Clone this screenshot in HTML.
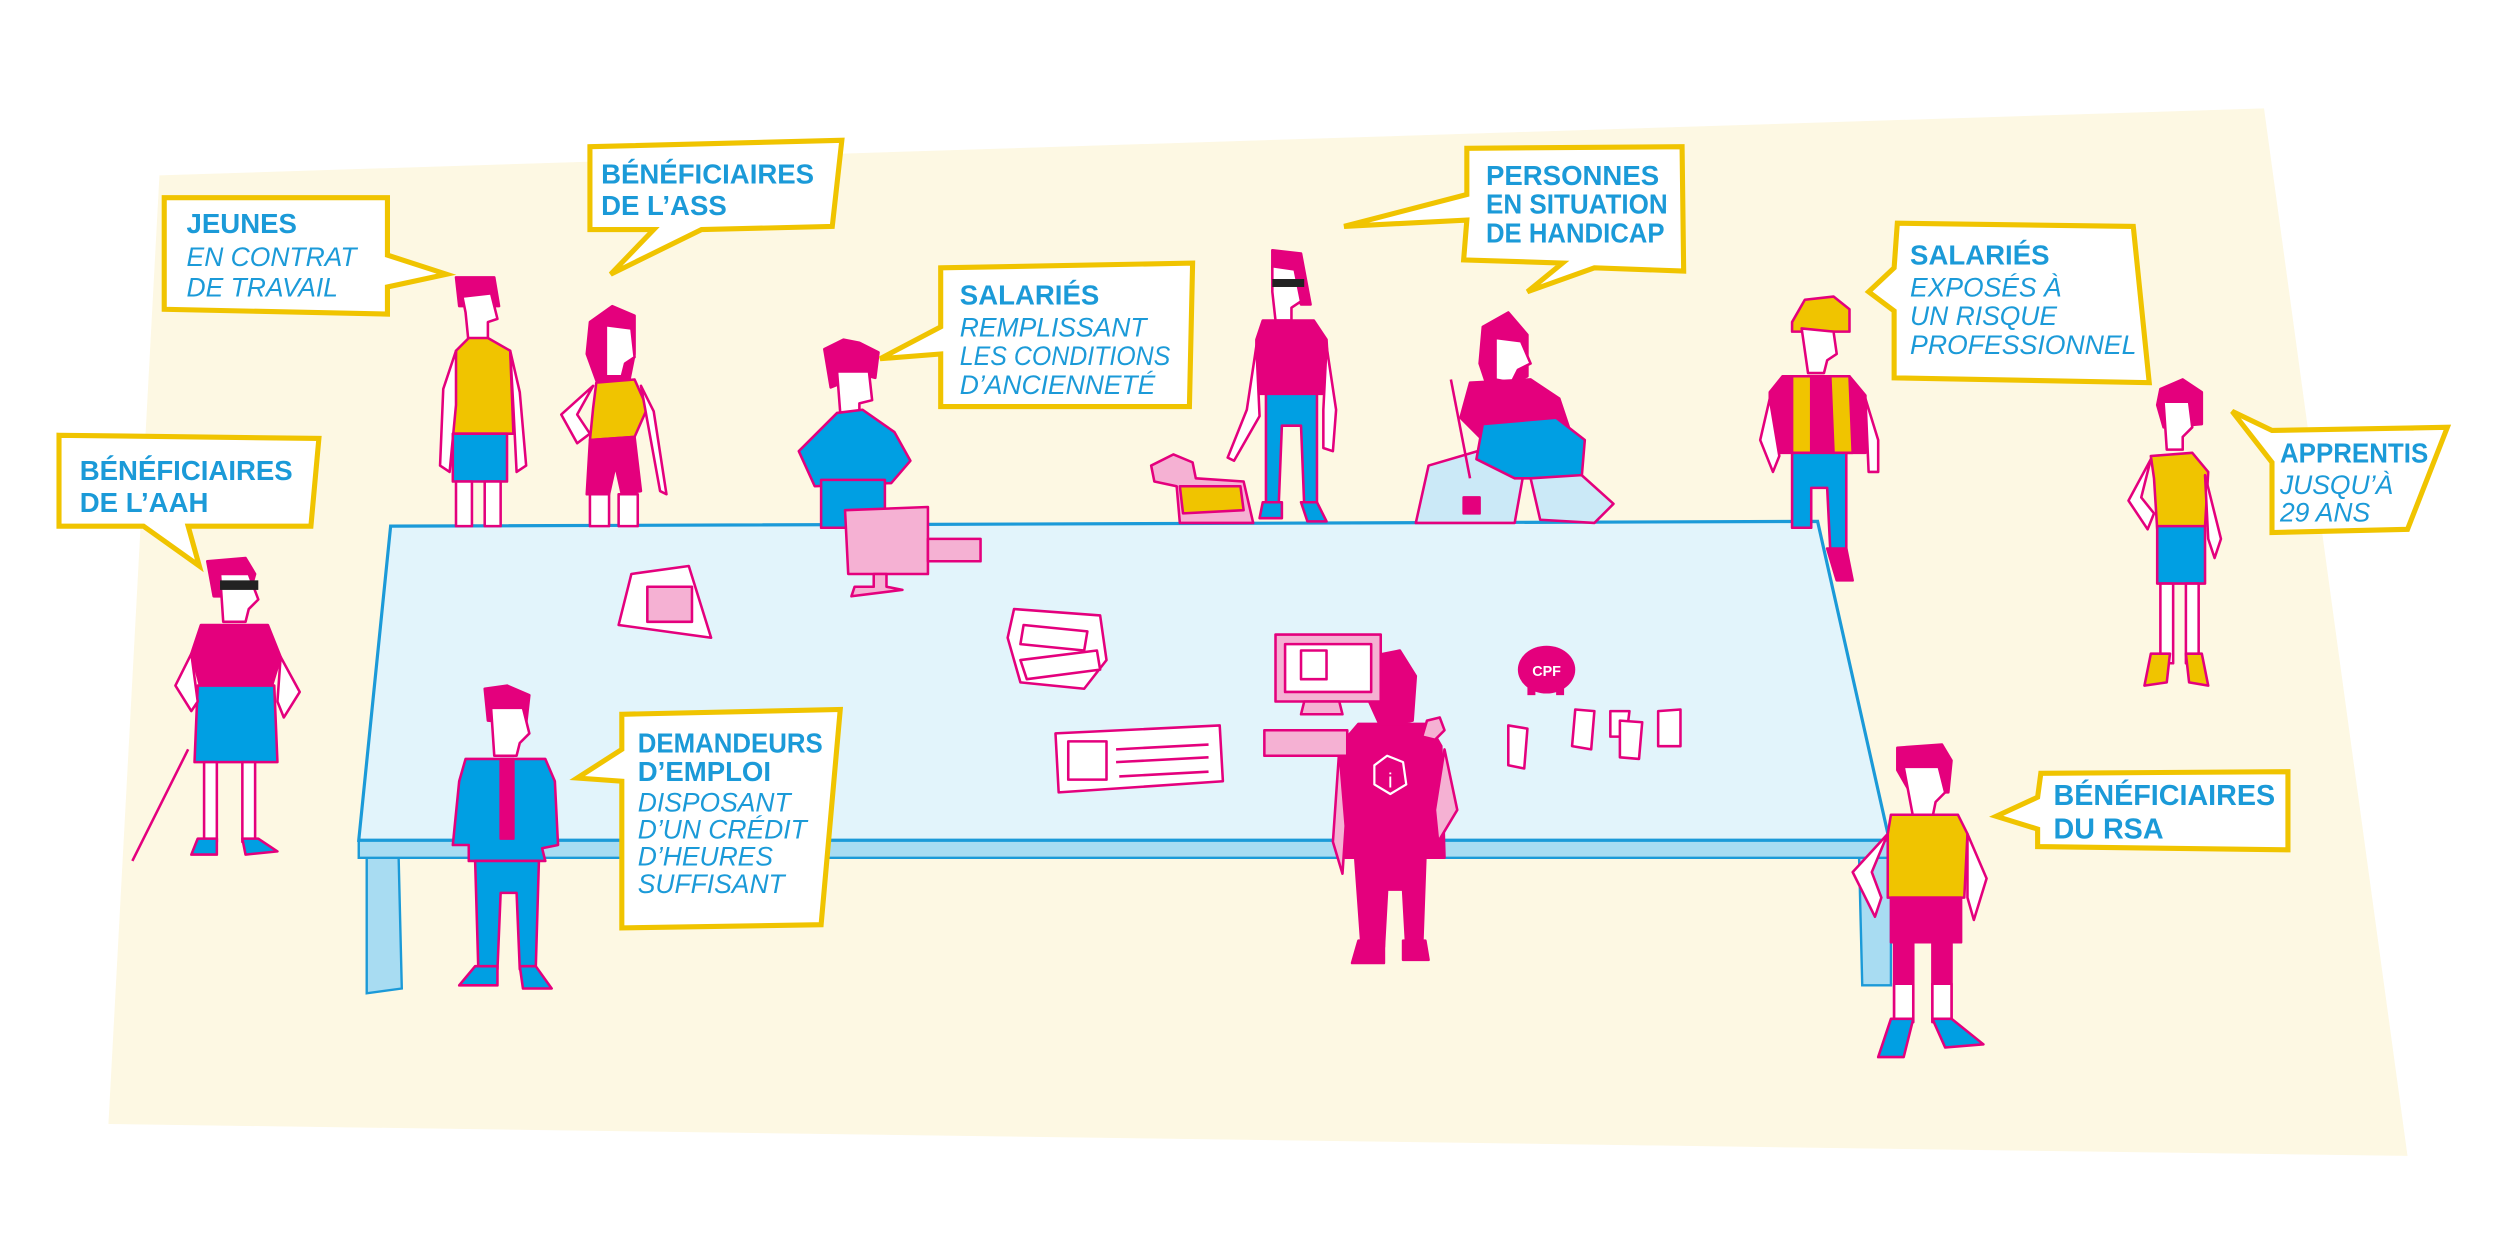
<!DOCTYPE html>
<html><head><meta charset="utf-8"><style>
html,body{margin:0;padding:0;background:#fff;}
svg{display:block}
.b{font-family:"Liberation Sans",sans-serif;font-weight:bold;font-size:17.3px;fill:#1b9ad8;}
.i{font-family:"Liberation Sans",sans-serif;font-style:italic;font-size:16.6px;fill:#1b9ad8;}
.bub{fill:#fff;stroke:#f0c400;stroke-width:3.2;stroke-linejoin:miter}
.m{stroke:#e4007d;stroke-width:1.6;stroke-linejoin:round}
</style></head><body>
<svg width="2500" height="1235" viewBox="0 0 1568 774.6" xmlns="http://www.w3.org/2000/svg">
<rect width="1568" height="775" fill="#fff"/>
<polygon points="100,110 1420,68 1510,725 68,705" fill="#fdf8e3"/>

<polygon points="230,537 250,537 252,620 230,623" fill="#a8dcf2" stroke="#1b9ad8" stroke-width="1.5"/>
<polygon points="1166,537 1186,537 1186,618 1168,618" fill="#a8dcf2" stroke="#1b9ad8" stroke-width="1.5"/>
<polygon points="225,527 1185,527 1185,538 225,538" fill="#a8dcf2" stroke="#1b9ad8" stroke-width="1.5"/>
<polygon points="245,330 1140,327 1185,527 225,527" fill="#e2f4fb" stroke="#1b9ad8" stroke-width="2"/>

<g class="m" transform="translate(300,174)">
<polygon points="-14,0 10,0 13,18 -12,18" fill="#e4007d"/>
<polygon points="-10,12 8,10 12,26 6,28 6,40 -6,42 -8,22" fill="#fff"/>
<polygon points="-6,38 6,38 20,46 22,98 -16,98 -14,46" fill="#f0c400"/>
<polygon points="-14,46 -22,70 -24,118 -18,122 -14,80" fill="#fff"/>
<polygon points="20,46 26,72 30,118 24,122 22,82" fill="#fff"/>
<rect x="-16" y="98" width="34" height="30" fill="#009fe3"/>
<rect x="-14" y="128" width="10" height="28" fill="#fff"/><rect x="4" y="128" width="10" height="28" fill="#fff"/>
</g>
<g class="m" transform="translate(386,192)">
<polygon points="-16,10 -2,0 12,6 12,30 8,50 -10,52 -18,30" fill="#e4007d"/>
<polygon points="-6,12 10,14 12,32 6,36 4,44 -6,44" fill="#fff"/>
<polygon points="-12,48 12,46 20,64 12,82 -16,84 -14,64" fill="#f0c400"/>
<polygon points="-16,84 12,82 16,116 4,118 0,100 -4,118 -18,118" fill="#e4007d"/>
<polygon points="-14,50 -34,68 -24,86 -16,80 -24,68" fill="#fff"/>
<polygon points="16,50 24,66 32,118 28,116 20,72" fill="#fff"/>
<rect x="-16" y="118" width="12" height="20" fill="#fff"/><rect x="2" y="118" width="12" height="20" fill="#fff"/>
</g>
<g class="m" transform="translate(535,213)">
<polygon points="-18,6 -6,0 4,2 16,8 14,24 6,22 -14,30" fill="#e4007d"/>
<polygon points="-10,20 10,20 12,38 4,40 4,48 -8,46" fill="#fff"/>
<polygon points="-10,46 6,44 26,58 36,76 24,90 -24,92 -34,70" fill="#009fe3"/>
<rect x="-20" y="88" width="40" height="30" fill="#009fe3"/>
</g>
<g class="m" transform="translate(810,157)">
<polygon points="-12,0 6,2 12,34 6,34 0,14 -12,12" fill="#e4007d"/>
<polygon points="-12,10 2,12 6,32 0,36 0,44 -10,44 -12,26" fill="#fff"/>
<rect x="-12" y="18" width="20" height="5" fill="#222" stroke="none"/>
<polygon points="-18,44 14,44 22,56 24,90 -22,90 -22,56" fill="#e4007d"/>
<polygon points="-16,90 16,90 16,160 8,160 6,110 -6,110 -8,160 -16,160" fill="#009fe3"/>
<polygon points="22,60 28,100 26,126 20,124 20,100" fill="#fff"/>
<polygon points="-22,60 -28,100 -40,130 -36,132 -20,104" fill="#fff"/>
<polygon points="-18,158 -6,158 -6,168 -20,168" fill="#009fe3"/><polygon points="6,158 16,158 22,170 10,170" fill="#009fe3"/>
</g>
<g class="m">
<polygon points="722,292 736,285 748,290 750,300 780,302 786,328 740,328 738,305 724,302" fill="#f5b1d3"/>
<polygon points="740,305 778,305 780,320 742,322" fill="#f0c400"/>
</g>
<g class="m">
<polygon points="888,328 896,292 930,282 955,300 950,328" fill="#cbe9f7"/>
<polygon points="930,205 946,196 958,210 958,236 948,240 934,246 928,228" fill="#e4007d"/>
<polygon points="938,212 954,214 960,228 952,232 948,240 938,238" fill="#fff"/>
<polygon points="922,240 960,238 978,250 984,268 930,276 916,262" fill="#e4007d"/>
<polygon points="930,266 976,262 994,276 992,300 950,300 926,288" fill="#009fe3"/>
<polygon points="960,300 992,298 1012,316 1000,328 966,326" fill="#cbe9f7"/>
<line x1="910" y1="238" x2="922" y2="300"/>
<rect x="918" y="312" width="10" height="10" fill="#e4007d"/>
</g>
<g class="m" transform="translate(1140,186)">
<polygon points="-16,16 -8,2 10,0 20,8 20,22 -16,22" fill="#f0c400"/>
<polygon points="-10,20 10,22 12,36 6,40 4,48 -6,48" fill="#fff"/>
<polygon points="-22,50 20,50 30,62 30,98 -30,98 -30,60" fill="#e4007d"/>
<polygon points="-16,50 -4,50 -4,98 -16,98" fill="#f0c400"/><polygon points="8,50 20,50 22,98 10,98" fill="#f0c400"/>
<polygon points="-16,98 18,98 18,160 8,160 6,120 -4,120 -4,145 -16,145" fill="#009fe3"/>
<polygon points="6,158 18,158 22,178 12,178" fill="#e4007d"/>
<polygon points="30,64 38,90 38,110 32,110" fill="#fff"/><polygon points="-30,64 -36,90 -28,110 -24,100" fill="#fff"/>
</g>
<g class="m" transform="translate(1365,238)">
<polygon points="-10,6 4,0 16,8 16,28 -8,30 -12,16" fill="#e4007d"/>
<polygon points="-8,14 8,14 10,30 4,36 4,44 -6,44" fill="#fff"/>
<polygon points="-16,48 10,46 20,58 18,92 -12,94 -14,62" fill="#f0c400"/>
<rect x="-12" y="92" width="30" height="36" fill="#009fe3"/>
<rect x="-10" y="128" width="8" height="50" fill="#fff"/><rect x="6" y="128" width="8" height="50" fill="#fff"/>
<polygon points="-16,50 -30,76 -18,94 -14,84 -22,74" fill="#fff"/><polygon points="18,60 28,100 24,112 20,100" fill="#fff"/>
<polygon points="-16,172 -4,172 -6,190 -20,192" fill="#f0c400"/><polygon points="6,172 16,172 20,192 8,190" fill="#f0c400"/>
</g>
<g class="m" transform="translate(148,350)">
<polygon points="-18,2 6,0 12,10 8,24 -14,24" fill="#e4007d"/>
<polygon points="-10,10 8,10 14,26 8,32 6,40 -8,40" fill="#fff"/>
<rect x="-10" y="14" width="24" height="6" fill="#222" stroke="none"/>
<polygon points="-22,42 20,42 28,62 22,82 -22,82 -28,60" fill="#e4007d"/>
<polygon points="-24,80 24,80 26,128 -26,128" fill="#009fe3"/>
<rect x="-20" y="128" width="8" height="50" fill="#fff"/><rect x="4" y="128" width="8" height="50" fill="#fff"/>
<polygon points="-28,60 -38,80 -28,96 -24,90" fill="#fff"/><polygon points="28,62 40,84 30,100 26,90" fill="#fff"/>
<polygon points="-24,176 -12,176 -12,186 -28,186" fill="#009fe3"/><polygon points="4,176 14,176 26,184 6,186" fill="#009fe3"/>
<line x1="-30" y1="120" x2="-65" y2="190"/>
</g>
<g class="m" transform="translate(318,430)">
<polygon points="-14,2 0,0 14,6 12,24 -12,22" fill="#e4007d"/>
<polygon points="-10,14 10,14 14,30 8,36 6,44 -8,44" fill="#fff"/>
<polygon points="-26,46 24,46 30,60 32,100 22,102 24,110 -24,110 -24,100 -34,100 -30,60" fill="#009fe3"/>
<polygon points="-4,46 4,46 4,96 -4,96" fill="#e4007d"/>
<polygon points="-20,110 20,110 18,178 8,178 6,130 -4,130 -6,178 -18,178" fill="#009fe3"/>
<polygon points="-20,176 -6,176 -6,188 -30,188" fill="#009fe3"/><polygon points="8,176 18,176 28,190 10,190" fill="#009fe3"/>
</g>
<g class="m" transform="translate(870,408)">
<polygon points="-12,4 8,0 18,16 16,44 -4,48 -14,26" fill="#e4007d"/>
<polygon points="-18,46 26,46 34,60 36,130 -26,130 -30,60" fill="#e4007d"/>
<polygon points="36,62 44,100 32,120 30,100" fill="#f5b1d3"/>
<polygon points="-30,62 -34,120 -28,140 -26,110" fill="#f5b1d3"/>
<polygon points="-20,130 24,130 22,186 12,186 10,150 0,150 -2,186 -16,186" fill="#e4007d"/>
<polygon points="-18,182 -2,182 -2,196 -22,196" fill="#e4007d"/><polygon points="10,182 24,182 26,194 10,194" fill="#e4007d"/>
<polygon points="0,66 10,70 12,84 2,90 -8,84 -8,72" fill="none" stroke="#fff" stroke-width="1.4"/>
<text x="2" y="86" font-family="Liberation Sans,sans-serif" font-size="13" fill="#fff" stroke="none" text-anchor="middle">i</text>
</g>
<polygon points="895,452 903,450 906,458 900,464 892,462" fill="#f5b1d3" class="m"/>
<g class="m" transform="translate(1208,467)">
<polygon points="-18,2 10,0 16,10 14,30 -10,30 -18,16" fill="#e4007d"/>
<polygon points="-14,14 8,14 12,30 6,36 4,46 -8,46" fill="#fff"/>
<polygon points="-22,44 20,44 26,56 24,96 -24,96 -24,56" fill="#f0c400"/>
<polygon points="-22,96 22,96 22,124 -22,124" fill="#e4007d"/>
<rect x="-20" y="124" width="12" height="50" fill="#e4007d"/><rect x="4" y="124" width="12" height="50" fill="#e4007d"/>
<rect x="-20" y="150" width="12" height="24" fill="#fff"/><rect x="4" y="150" width="12" height="24" fill="#fff"/>
<polygon points="-24,56 -46,80 -32,108 -28,96 -34,80" fill="#fff"/><polygon points="26,56 38,84 30,110 26,96" fill="#fff"/>
<polygon points="-22,172 -8,172 -14,196 -30,196" fill="#009fe3"/><polygon points="4,172 16,172 36,188 12,190" fill="#009fe3"/>
</g>

<g class="m">
<polygon points="530,320 582,318 582,360 532,360" fill="#f5b1d3"/>
<rect x="582" y="338" width="33" height="14" fill="#f5b1d3"/>
<polygon points="548,360 556,360 556,368 566,370 534,374 536,368 548,368" fill="#f5b1d3"/>
<polygon points="396,360 432,355 446,400 388,392" fill="#fff"/>
<rect x="406" y="368" width="28" height="22" fill="#f5b1d3"/>
<polygon points="636,382 690,386 694,414 680,432 640,428 632,400" fill="#fff"/>
<polygon points="642,392 682,396 680,408 640,404" fill="#fff"/>
<polygon points="640,414 688,408 690,420 644,426" fill="#fff"/>
<rect x="800" y="398" width="66" height="42" fill="#f5b1d3"/>
<rect x="806" y="404" width="54" height="30" fill="#fff"/>
<rect x="816" y="408" width="16" height="18" fill="#fff"/>
<polygon points="818,440 840,440 842,448 816,448" fill="#f5b1d3"/>
<rect x="793" y="458" width="52" height="16" fill="#f5b1d3"/>
<polygon points="662,460 765,455 767,490 664,497" fill="#fff"/>
<rect x="670" y="465" width="24" height="24" fill="#fff"/>
<line x1="700" y1="470" x2="758" y2="467"/><line x1="700" y1="478" x2="758" y2="475"/><line x1="702" y1="487" x2="758" y2="484"/>
<polygon points="946,455 958,457 956,482 946,480" fill="#fff"/>
<polygon points="988,445 1000,446 998,470 986,468" fill="#fff"/>
<polygon points="1010,446 1022,446 1020,462 1010,462" fill="#fff"/>
<polygon points="1016,452 1030,453 1028,476 1016,475" fill="#fff"/>
<polygon points="1040,446 1054,445 1054,468 1040,468" fill="#fff"/>
</g>
<ellipse cx="970" cy="420" rx="18" ry="15" fill="#e4007d"/>
<rect x="958" y="430" width="5" height="6" fill="#e4007d"/><rect x="976" y="430" width="5" height="6" fill="#e4007d"/>
<text x="970" y="424" font-family="Liberation Sans,sans-serif" font-weight="bold" font-size="9" fill="#fff" text-anchor="middle">CPF</text>

<polygon class="bub" points="103,124 243,124 243,160 280,172 243,180 243,197 103,194"/>
<text class="b" x="117" y="146">JEUNES</text><text class="i" x="117" y="167">EN CONTRAT</text><text class="i" x="117" y="186">DE TRAVAIL</text>

<polygon class="bub" points="370,92 528,88 522,142 440,144 383,172 410,144 370,144"/>
<text class="b" x="377" y="115">BÉNÉFICIAIRES</text><text class="b" x="377" y="135">DE L’ASS</text>

<polygon class="bub" points="590,168 748,165 746,255 590,255 590,222 552,225 590,205"/>
<text class="b" x="602" y="191">SALARIÉS</text><text class="i" x="602" y="211">REMPLISSANT</text><text class="i" x="602" y="229" textLength="132" lengthAdjust="spacingAndGlyphs">LES CONDITIONS</text><text class="i" x="602" y="247">D’ANCIENNETÉ</text>

<polygon class="bub" points="920,93 1055,92 1056,170 1000,168 958,183 980,165 918,163 920,138 843,142 920,122"/>
<text class="b" x="932" y="116">PERSONNES</text><text class="b" x="932" y="134" textLength="114" lengthAdjust="spacingAndGlyphs">EN SITUATION</text><text class="b" x="932" y="152" textLength="112" lengthAdjust="spacingAndGlyphs">DE HANDICAP</text>

<polygon class="bub" points="1190,140 1338,142 1348,240 1188,237 1188,195 1172,183 1188,168"/>
<text class="b" x="1198" y="166">SALARIÉS</text><text class="i" x="1198" y="186">EXPOSÉS À</text><text class="i" x="1198" y="204">UN RISQUE</text><text class="i" x="1198" y="222" textLength="142" lengthAdjust="spacingAndGlyphs">PROFESSIONNEL</text>

<polygon class="bub" points="1425,270 1535,268 1510,332 1425,334 1425,290 1400,258"/>
<text class="b" x="1430" y="290" textLength="93" lengthAdjust="spacingAndGlyphs">APPRENTIS</text><text class="i" x="1430" y="310">JUSQU’À</text><text class="i" x="1430" y="327">29 ANS</text>

<polygon class="bub" points="37,273 200,275 195,330 118,330 125,355 90,330 37,330"/>
<text class="b" x="50" y="301">BÉNÉFICIAIRES</text><text class="b" x="50" y="321">DE L’AAH</text>

<polygon class="bub" points="390,448 527,445 515,580 390,582 390,490 362,488 390,470"/>
<text class="b" x="400" y="472" textLength="116" lengthAdjust="spacingAndGlyphs">DEMANDEURS</text><text class="b" x="400" y="490">D’EMPLOI</text><text class="i" x="400" y="509">DISPOSANT</text><text class="i" x="400" y="526">D’UN CRÉDIT</text><text class="i" x="400" y="543">D’HEURES</text><text class="i" x="400" y="560">SUFFISANT</text>

<polygon class="bub" points="1280,485 1435,484 1435,533 1278,531 1278,520 1252,512 1278,500"/>
<text class="b" x="1288" y="505" style="font-size:18px">BÉNÉFICIAIRES</text><text class="b" x="1288" y="526" style="font-size:18px">DU RSA</text>
</svg>
</body></html>
